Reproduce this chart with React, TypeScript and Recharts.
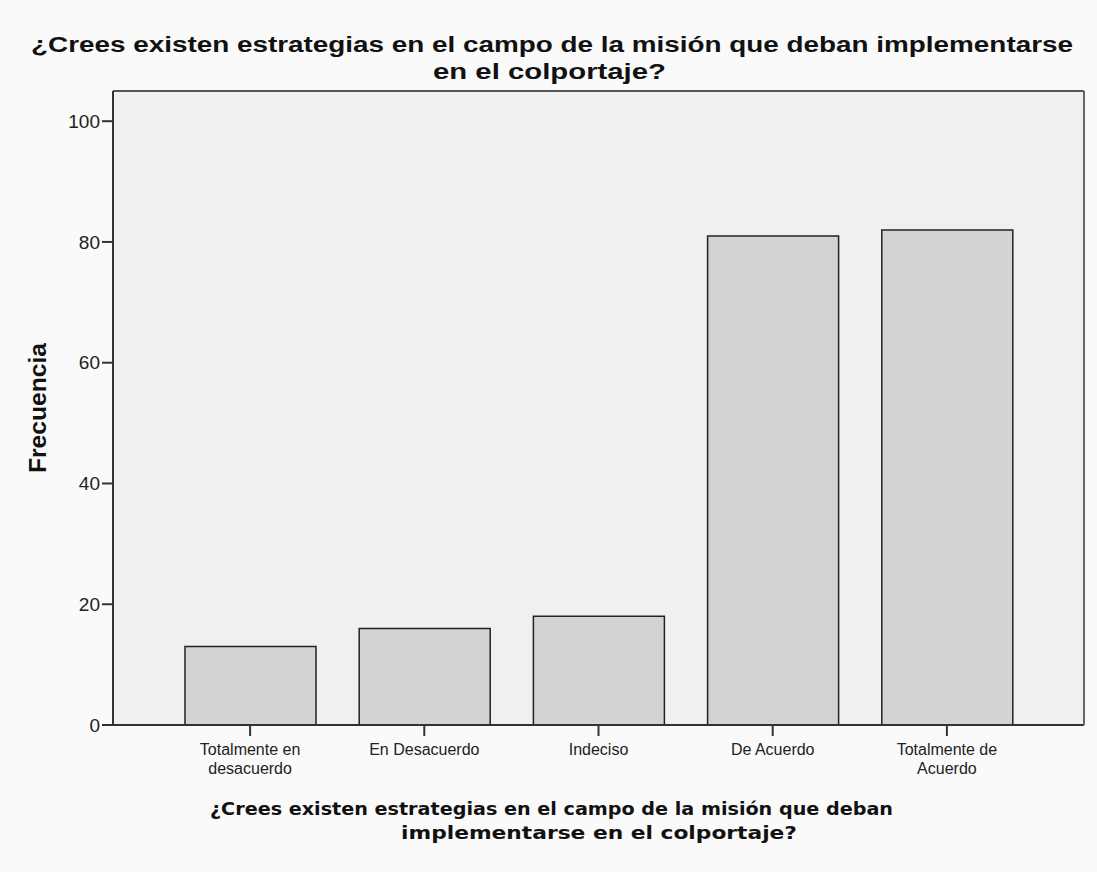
import React from 'react';
import { BarChart, Bar, XAxis, YAxis, CartesianGrid } from 'recharts';

const categorias = [
  'Totalmente en\ndesacuerdo',
  'En Desacuerdo',
  'Indeciso',
  'De Acuerdo',
  'Totalmente de\nAcuerdo',
];
const frecuencias = [13, 16, 18, 81, 82];
const yTicks = [0, 20, 40, 60, 80, 100];

const tituloLineas = [
  '¿Crees existen estrategias en el campo de la misión que deban implementarse',
  'en el colportaje?',
];
const ejeXLineas = [
  '¿Crees existen estrategias en el campo de la misión que deban',
  'implementarse en el colportaje?',
];
const ejeYTitulo = 'Frecuencia';

const data = categorias.map((c, i) => ({ categoria: c, frecuencia: frecuencias[i] }));

const ARIAL = '"Liberation Sans", Arial, sans-serif';

const CategoryTick = (props: any) => {
  const { x, y, payload } = props;
  const lines = String(payload.value).split('\n');
  return (
    <g transform={`translate(${x},${y})`}>
      {lines.map((l, i) => (
        <text key={i} x={0} y={17 + i * 19} textAnchor="middle" fontFamily={ARIAL} fontSize={16} fill="#222">
          {l}
        </text>
      ))}
    </g>
  );
};

const App = () => {
  return (
    <div style={{ position: 'absolute', left: 0, top: 0, width: 1097, height: 872, background: '#fafafa' }}>
      <BarChart
        width={1097}
        height={872}
        data={data}
        margin={{ top: 90, right: 12, bottom: 0, left: 0 }}
      >
        <CartesianGrid horizontal={false} vertical={false} fill="#f0f0f0" />
        <XAxis
          dataKey="categoria"
          height={147}
          interval={0}
          padding={{ left: 50, right: 50 }}
          tick={<CategoryTick />}
          tickSize={11}
          tickMargin={2}
          tickLine={{ stroke: '#333', strokeWidth: 2 }}
          axisLine={{ stroke: '#333', strokeWidth: 2 }}
        />
        <XAxis
          xAxisId="top"
          dataKey="categoria"
          orientation="top"
          height={1}
          tick={false}
          tickLine={false}
          axisLine={{ stroke: '#555', strokeWidth: 2 }}
        />
        <YAxis
          width={113}
          domain={[0, 105]}
          ticks={yTicks}
          tickSize={11}
          tickMargin={2}
          tick={{ fontSize: 19, fill: '#222', fontFamily: ARIAL }}
          tickLine={{ stroke: '#333', strokeWidth: 2 }}
          axisLine={{ stroke: '#333', strokeWidth: 2 }}
        />
        <YAxis
          yAxisId="right"
          orientation="right"
          width={1}
          domain={[0, 105]}
          tick={false}
          tickLine={false}
          axisLine={{ stroke: '#666', strokeWidth: 2 }}
        />
        <Bar
          dataKey="frecuencia"
          fill="#d3d3d3"
          stroke="#222"
          strokeWidth={1.5}
          barSize={131}
          isAnimationActive={false}
        />
      </BarChart>
      <svg
        width={1097}
        height={872}
        style={{ position: 'absolute', left: 0, top: 0, pointerEvents: 'none' }}
      >
        <text x={31} y={52} fontFamily={ARIAL} fontWeight="bold" fontSize={22} fill="#111" textLength={1042} lengthAdjust="spacingAndGlyphs">
          {tituloLineas[0]}
        </text>
        <text x={433} y={79} fontFamily={ARIAL} fontWeight="bold" fontSize={22} fill="#111" textLength={233} lengthAdjust="spacingAndGlyphs">
          {tituloLineas[1]}
        </text>
        <text x={210} y={815} fontFamily='"DejaVu Sans", sans-serif' fontWeight="bold" fontSize={18} fill="#111" textLength={683} lengthAdjust="spacingAndGlyphs">
          {ejeXLineas[0]}
        </text>
        <text x={401} y={839} fontFamily='"DejaVu Sans", sans-serif' fontWeight="bold" fontSize={18} fill="#111" textLength={396} lengthAdjust="spacingAndGlyphs">
          {ejeXLineas[1]}
        </text>
        <text
          transform="translate(46,473) rotate(-90)"
          x={0}
          y={0}
          fontFamily={ARIAL}
          fontWeight="bold"
          fontSize={23}
          fill="#111"
          textLength={130}
          lengthAdjust="spacingAndGlyphs"
        >
          {ejeYTitulo}
        </text>
      </svg>
    </div>
  );
};

export default App;
